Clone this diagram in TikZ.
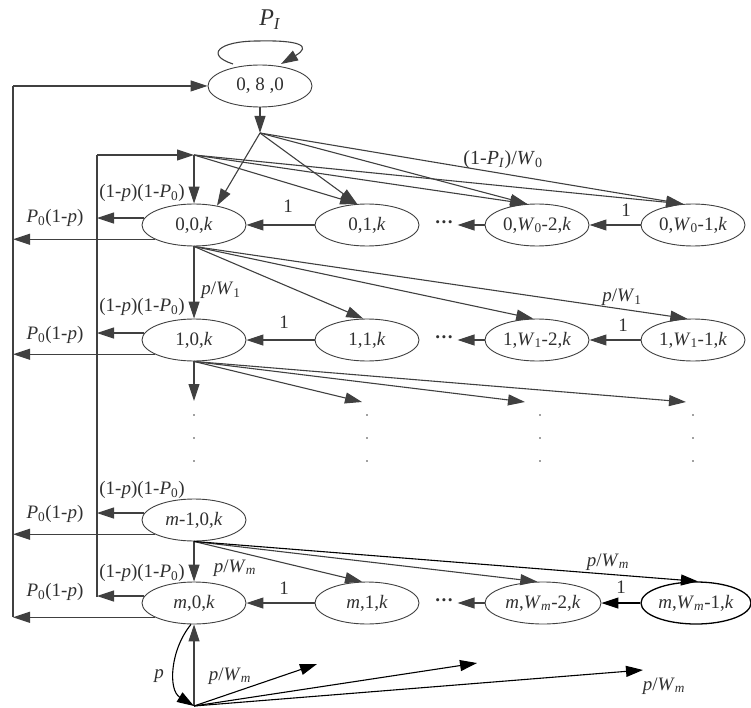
\documentclass[tikz,border=0pt]{standalone}
\usepackage{fontspec}
\setmainfont{Liberation Serif}
\usetikzlibrary{shapes.geometric,arrows.meta}
\definecolor{lc}{HTML}{404040}
\definecolor{tc}{HTML}{303030}
\newcommand\fsz{\fontsize{19}{22}\selectfont}
\newcommand\itx[1]{\textit{#1}}
\newcommand\sbs[1]{\textsubscript{#1}}
\begin{document}
\begin{tikzpicture}[x=1pt,y=-1pt,
  st/.style={ellipse,draw=lc,line width=0.9pt,minimum width=104pt,minimum height=42pt,inner sep=0pt,font=\fsz,text=tc},
  arr/.style={draw=lc,line width=1.1pt,-{Triangle[length=17pt,width=11pt]}},
  ln/.style={draw=lc,line width=1.1pt},
  lbl/.style={font=\fsz,text=tc,inner sep=0pt},
  vdot/.style={circle,fill=lc,inner sep=0pt,minimum size=1.8pt},
  dts/.style={font=\fsz\bfseries,text=tc,inner sep=0pt,outer sep=4pt}
]
\useasboundingbox (0,0) rectangle (751,708);

% nodes
\node[st] (n080) at (260,86) {0, 8 ,0};
\node[st] (n00) at (194,225) {0,0,\itx{k}};
\node[st] (n01) at (367,225) {0,1,\itx{k}};
\node[st] (n0W2) at (537,225) {0,\itx{W}\sbs{0}-2,\itx{k}};
\node[st] (n0W1) at (693,225) {0,\itx{W}\sbs{0}-1,\itx{k}};
\node[st] (n10) at (194,340) {1,0,\itx{k}};
\node[st] (n11) at (367,340) {1,1,\itx{k}};
\node[st] (n1W2) at (537,340) {1,\itx{W}\sbs{1}-2,\itx{k}};
\node[st] (n1W1) at (693,340) {1,\itx{W}\sbs{1}-1,\itx{k}};
\node[st] (nm10) at (194,520) {\itx{m}-1,0,\itx{k}};
\node[st] (nm0) at (194,603) {\itx{m},0,\itx{k}};
\node[st] (nm1) at (367,603) {\itx{m},1,\itx{k}};
\node[st,minimum width=116pt] (nmW2) at (543,603) {\itx{m},\itx{W}\sbs{\itx{m}}-2,\itx{k}};
\node[st,minimum width=110pt,draw=black,line width=1.3pt] (nmW1) at (696,603) {\itx{m},\itx{W}\sbs{\itx{m}}-1,\itx{k}};

\node[dts] (d0) at (444,225) {···};
\node[dts] (d1) at (444,340) {···};
\node[dts] (dm) at (444,603) {···};

\foreach \cx in {194,367,540,693}{
  \foreach \cy in {415,438,461}{
    \node[vdot] at (\cx,\cy) {};
  }
}

% coordinates
\coordinate (V1t) at (13,86);
\coordinate (V1b) at (13,617);
\coordinate (V2t) at (97,155);
\coordinate (V2b) at (97,597);
\coordinate (B1) at (260,133);
\coordinate (B2) at (194,155);
\coordinate (B) at (194,706);
\coordinate (r2a) at (194,401);
\coordinate (r2b) at (362,402);
\coordinate (r2c) at (525,402);
\coordinate (r2d) at (686,402);
\coordinate (f1) at (317,664);
\coordinate (f2) at (477,663);
\coordinate (f3) at (643,670);
\coordinate (L0) at (233,64);
\coordinate (L1) at (281,64);

% self loop
\draw[arr] (L0) .. controls (205,55) and (218,41) .. (258,41)
  .. controls (300,40) and (312,46) .. (L1);

% left lines
\draw[ln] (V1b) -- (V1t);
\draw[arr] (V1t) -- (n080.west);
\draw[ln] (V2b) -- (V2t);
\draw[arr] (V2t) -- (B2);

% top fans
\draw[arr] (n080.south) -- (B1);
\foreach \t in {n00.40,n01.115,n0W2.115,n0W1.115}{\draw[arr] (B1) -- (\t);}
\draw[arr] (B2) -- (n00.north);
\foreach \t in {n01.115,n0W2.115,n0W1.115}{\draw[arr] (B2) -- (\t);}

% left arrows
\foreach \n in {n00,n10,nm10,nm0}{
  \draw[arr] (\n.172) -- (\n.172 -| V2t);
  \draw[arr] (\n.200) -- (\n.200 -| V1t);
}

% row arrows
\draw[arr] (n01.west) -- (n00.east);
\draw[arr] (n0W2.west) -- (d0);
\draw[arr] (n0W1.west) -- (n0W2.east);
\draw[arr] (n11.west) -- (n10.east);
\draw[arr] (n1W2.west) -- (d1);
\draw[arr] (n1W1.west) -- (n1W2.east);
\draw[arr] (nm1.west) -- (nm0.east);
\draw[arr] (nmW2.west) -- (dm);
\draw[arr,draw=black] (nmW1.west) -- (nmW2.east);

% fans row0 -> row1
\draw[arr] (n00.south) -- (n10.north);
\draw[arr] (n00.south) -- (n11.100);
\draw[arr] (n00.south) -- (n1W2.100);
\draw[arr] (n00.south) -- (n1W1.105);
% fans row1 -> dots
\draw[arr] (n10.south) -- (r2a);
\draw[arr] (n10.south) -- (r2b);
\draw[arr] (n10.south) -- (r2c);
\draw[arr] (n10.south) -- (r2d);
% fans row m-1 -> row m
\draw[arr] (nm10.south) -- (nm0.north);
\draw[arr] (nm10.south) -- (nm1.103);
\draw[arr] (nm10.south) -- (nmW2.105);
\draw[arr,draw=black] (nm10.south) -- (nmW1.85);

% bottom
\draw[arr] (B) -- (nm0.south);
\draw[arr,draw=black] (nm0.262) .. controls (170,650) and (168,690) .. (B);
\draw[arr,draw=black] (B) -- (f1);
\draw[arr,draw=black] (B) -- (f2);
\draw[arr,draw=black] (B) -- (f3);

% labels
\node[lbl] at (270,20) {\fontsize{24}{28}\selectfont\itx{P}\sbs{\itx{I}}};
\node[lbl] at (503,160) {\fontsize{20}{24}\selectfont(1-\itx{P}\sbs{\itx{I}})/\itx{W}\sbs{0}};
\foreach \ry/\ly/\py in {225/193/218, 340/307/335, 520/490/514, 603/573/592}{
  \node[lbl] at (142,\ly) {(1-\itx{p})(1-\itx{P}\sbs{0})};
  \node[lbl] at (55,\py) {\itx{P}\sbs{0}(1-\itx{p})};
}
\node[lbl] at (288,206) {1};
\node[lbl] at (626,210) {1};
\node[lbl] at (284,322) {1};
\node[lbl] at (623,325) {1};
\node[lbl] at (284,588) {1};
\node[lbl] at (621,587) {1};
\node[lbl] at (221,290) {\itx{p}/\itx{W}\sbs{1}};
\node[lbl] at (622,297) {\itx{p}/\itx{W}\sbs{1}};
\node[lbl] at (235,568) {\itx{p}/\itx{W}\sbs{\itx{m}}};
\node[lbl] at (608,562) {\itx{p}/\itx{W}\sbs{\itx{m}}};
\node[lbl] at (159,676) {\itx{p}};
\node[lbl] at (230,676) {\itx{p}/\itx{W}\sbs{\itx{m}}};
\node[lbl] at (664,686) {\itx{p}/\itx{W}\sbs{\itx{m}}};
\end{tikzpicture}
\end{document}
